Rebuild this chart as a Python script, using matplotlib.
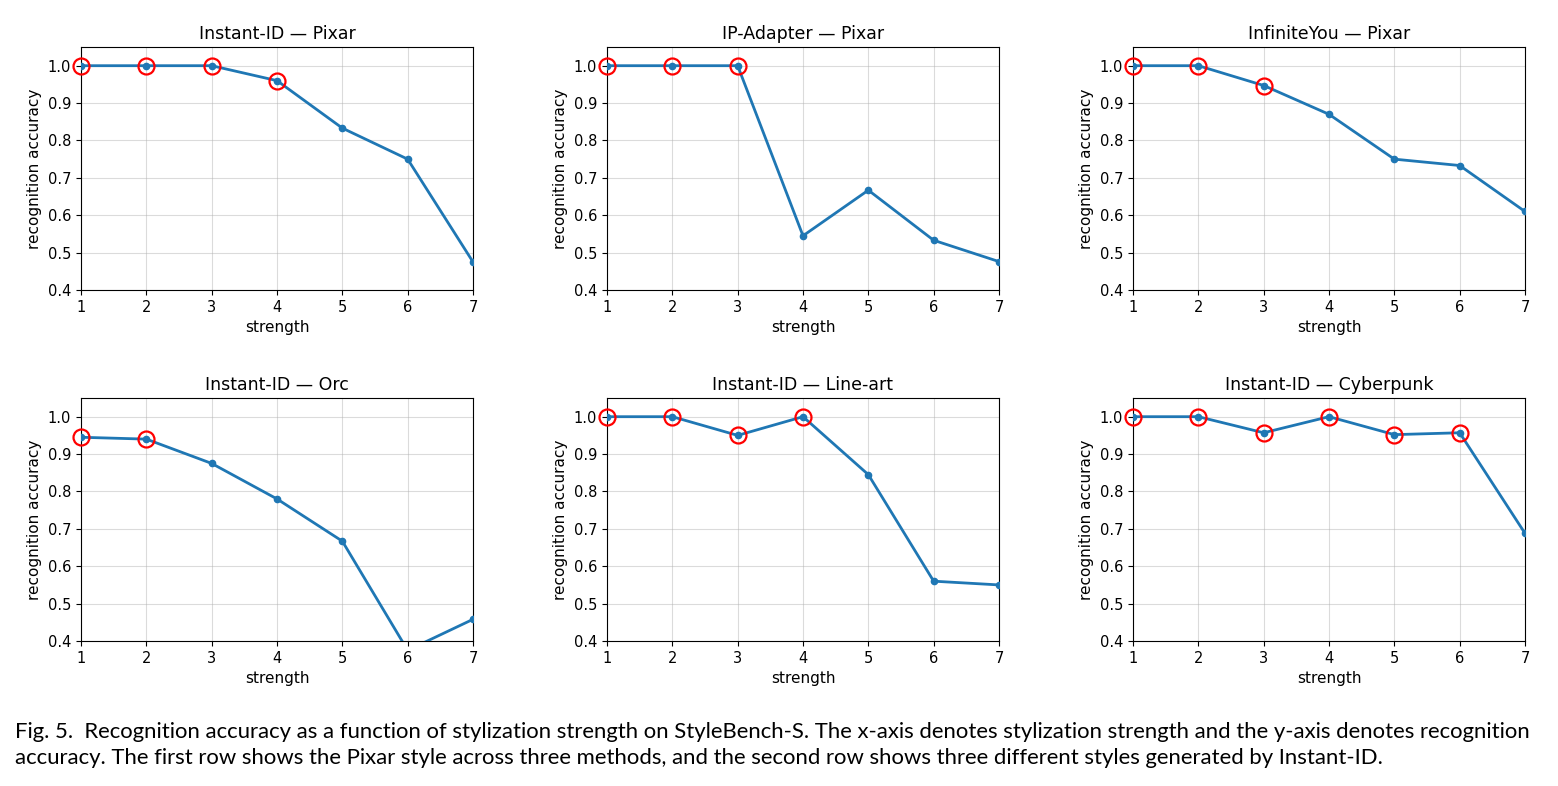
import matplotlib
matplotlib.use("Agg")
import matplotlib.pyplot as plt
import numpy as np

strength = [1, 2, 3, 4, 5, 6, 7]

titles = ["Instant-ID — Pixar", "IP-Adapter — Pixar", "InfiniteYou — Pixar",
          "Instant-ID — Orc", "Instant-ID — Line-art", "Instant-ID — Cyberpunk"]

instantid_pixar = [1.0, 1.0, 1.0, 0.96, 0.833, 0.75, 0.475]
ipadapter_pixar = [1.0, 1.0, 1.0, 0.545, 0.667, 0.533, 0.476]
infiniteyou_pixar = [1.0, 1.0, 0.947, 0.87, 0.75, 0.733, 0.61]
instantid_orc = [0.945, 0.94, 0.875, 0.78, 0.667, 0.375, 0.458]
instantid_lineart = [1.0, 1.0, 0.95, 1.0, 0.845, 0.56, 0.55]
instantid_cyberpunk = [1.0, 1.0, 0.957, 1.0, 0.952, 0.957, 0.688]

series = [instantid_pixar, ipadapter_pixar, infiniteyou_pixar,
          instantid_orc, instantid_lineart, instantid_cyberpunk]

# points highlighted with a red ring (high accuracy)
threshold = 0.9

caption = ("Fig. 5.  Recognition accuracy as a function of stylization strength on StyleBench-S. "
           "The x-axis denotes stylization strength and the y-axis denotes recognition\n"
           "accuracy. The first row shows the Pixar style across three methods, and the second "
           "row shows three different styles generated by Instant-ID.")

fig = plt.figure(figsize=(15.58, 7.86), dpi=100)

W, H = 1558, 786
lefts = [81, 607, 1133]
tops = [47, 398]
aw, ah = 392, 243

for i, (name, vals) in enumerate(zip(titles, series)):
    r, c = divmod(i, 3)
    ax = fig.add_axes([lefts[c] / W, 1 - (tops[r] + ah) / H, aw / W, ah / H])
    x = np.array(strength)
    y = np.array(vals)
    ax.plot(x, y, color="#1f77b4", lw=2, marker="o", ms=4.5, zorder=3)
    hi = y >= threshold
    ax.plot(x[hi], y[hi], ls="none", marker="o", ms=11.5, mfc="none",
            mec="red", mew=1.6, zorder=4, clip_on=False)
    ax.set_xlim(1, 7)
    ax.set_ylim(0.4, 1.05)
    ax.set_xticks(strength)
    ax.set_yticks([0.4, 0.5, 0.6, 0.7, 0.8, 0.9, 1.0])
    ax.grid(True, color="#b0b0b0", alpha=0.45, lw=0.8)
    ax.set_title(name, fontsize=12.5)
    ax.set_xlabel("strength", fontsize=11)
    ax.set_ylabel("recognition accuracy", fontsize=11)
    ax.tick_params(labelsize=10.5)

fig.text(15 / W, 1 - 745 / H, caption, fontsize=15.95, family="Lato",
         ha="left", va="center", linespacing=1.4)

fig.savefig("out.png", dpi=100)
